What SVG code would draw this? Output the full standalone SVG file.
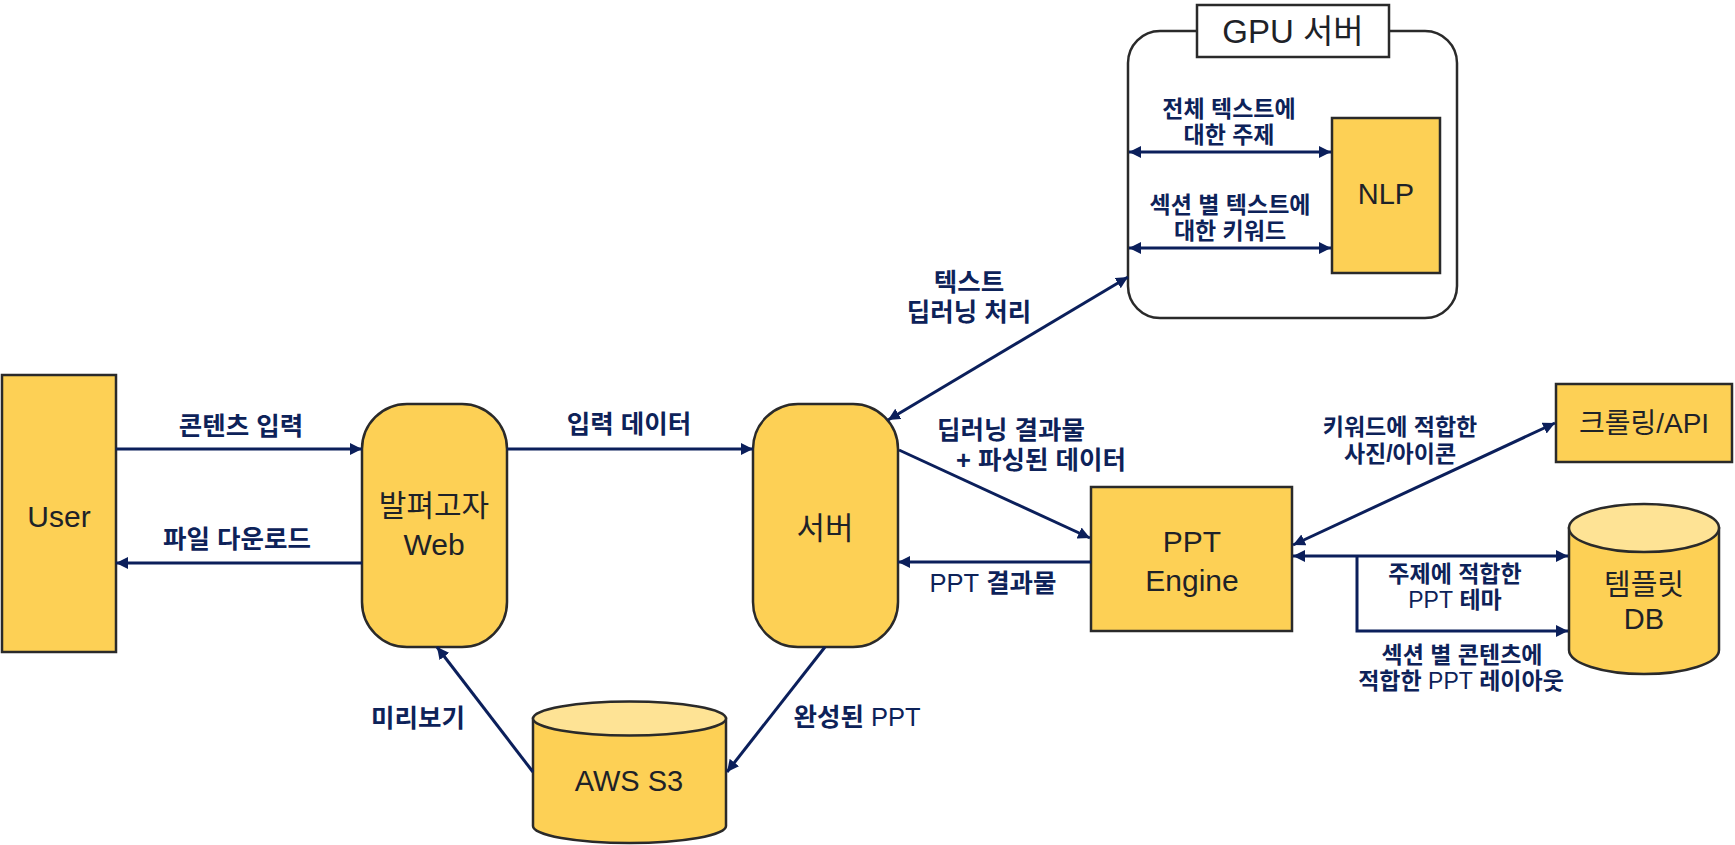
<svg xmlns="http://www.w3.org/2000/svg" width="1735" height="845" viewBox="0 0 1735 845">
<defs>
<style>
.node{fill:#FDD055;stroke:#2a2a2a;stroke-width:2.5}
.top{fill:#FEE395;stroke:#2a2a2a;stroke-width:2.5}
.frame{fill:#ffffff;stroke:#2a2a2a;stroke-width:2.5}
.nt{font-family:"Liberation Sans","Noto Sans CJK KR",sans-serif;font-size:30px;fill:#1e2228;text-anchor:middle}
.lb{font-family:"Liberation Sans","Noto Sans CJK KR",sans-serif;font-size:23px;font-weight:bold;fill:#0d2259;text-anchor:middle}
.big{font-size:25.5px}
.lt{font-weight:normal}
.cn{fill:none;stroke:#0b1f5b;stroke-width:3}
</style>
<marker id="ah" viewBox="0 0 12 12" refX="12" refY="6" markerWidth="12" markerHeight="12" markerUnits="userSpaceOnUse" orient="auto-start-reverse">
<path d="M0,0 L12,6 L0,12 Z" fill="#0b1f5b"/>
</marker>
</defs>
<rect width="1735" height="845" fill="#ffffff"/>

<g id="gpu-server">
<rect class="frame" x="1128" y="31" width="329" height="287" rx="32" ry="32"/>
<rect class="frame" x="1197" y="5" width="192" height="52"/>
<text class="nt" x="1293" y="43" style="font-size:33px">GPU 서버</text>
</g>

<g id="user">
<rect class="node" x="2" y="375" width="114" height="277"/>
<text class="nt" x="59" y="527">User</text>
</g>

<g id="web">
<rect class="node" x="362" y="404" width="145" height="243" rx="45" ry="45"/>
<text class="nt" x="434" y="516">발펴고자</text>
<text class="nt" x="434" y="555">Web</text>
</g>

<g id="server">
<rect class="node" x="753" y="404" width="145" height="243" rx="45" ry="45"/>
<text class="nt" x="825" y="539" style="font-size:31px">서버</text>
</g>

<g id="s3">
<path class="node" d="M533,718.5 L533,826 A96.5,17 0 0 0 726,826 L726,718.5 Z"/>
<ellipse class="top" cx="629.5" cy="718.5" rx="96.5" ry="17"/>
<text class="nt" x="629" y="791" style="font-size:29px">AWS S3</text>
</g>

<g id="nlp">
<rect class="node" x="1332" y="118" width="108" height="155"/>
<text class="nt" x="1386" y="204" style="font-size:29px">NLP</text>
</g>

<g id="ppt-engine">
<rect class="node" x="1091" y="487" width="201" height="144"/>
<text class="nt" x="1192" y="552">PPT</text>
<text class="nt" x="1192" y="591">Engine</text>
</g>

<g id="crawling">
<rect class="node" x="1556" y="384" width="176" height="78"/>
<text class="nt" x="1644" y="433" style="font-size:28px">크롤링/API</text>
</g>

<g id="template-db">
<path class="node" d="M1569,528 L1569,650 A75,24 0 0 0 1719,650 L1719,528 Z"/>
<ellipse class="top" cx="1644" cy="528" rx="75" ry="24"/>
<text class="nt" x="1644" y="595" style="font-size:29px">템플릿</text>
<text class="nt" x="1644" y="629" style="font-size:29px">DB</text>
</g>

<g id="connectors">
<line class="cn" x1="116" y1="449" x2="362" y2="449" marker-end="url(#ah)"/>
<line class="cn" x1="362" y1="563" x2="116" y2="563" marker-end="url(#ah)"/>
<line class="cn" x1="507" y1="449" x2="753" y2="449" marker-end="url(#ah)"/>
<line class="cn" x1="888" y1="420" x2="1128" y2="277" marker-start="url(#ah)" marker-end="url(#ah)"/>
<line class="cn" x1="899" y1="450" x2="1090" y2="538" marker-end="url(#ah)"/>
<line class="cn" x1="1091" y1="562" x2="898" y2="562" marker-end="url(#ah)"/>
<line class="cn" x1="825" y1="647" x2="727" y2="772" marker-end="url(#ah)"/>
<line class="cn" x1="533" y1="772" x2="437" y2="647" marker-end="url(#ah)"/>
<line class="cn" x1="1129" y1="152" x2="1331" y2="152" marker-start="url(#ah)" marker-end="url(#ah)"/>
<line class="cn" x1="1129" y1="248" x2="1331" y2="248" marker-start="url(#ah)" marker-end="url(#ah)"/>
<line class="cn" x1="1293" y1="545" x2="1555" y2="423" marker-start="url(#ah)" marker-end="url(#ah)"/>
<line class="cn" x1="1293" y1="556" x2="1568" y2="556" marker-start="url(#ah)" marker-end="url(#ah)"/>
<polyline class="cn" points="1357,556 1357,631 1568,631" marker-end="url(#ah)"/>
</g>

<g id="labels">
<text class="lb big" x="241" y="435">콘텐츠 입력</text>
<text class="lb big" x="237" y="548">파일 다운로드</text>
<text class="lb big" x="629" y="433">입력 데이터</text>
<text class="lb big" x="418" y="727">미리보기</text>
<text class="lb big" x="857" y="726">완성된 <tspan class="lt">PPT</tspan></text>
<text class="lb big" x="969" y="291">텍스트</text>
<text class="lb big" x="969" y="321">딥러닝 처리</text>
<text class="lb big" x="1011" y="439">딥러닝 결과물</text>
<text class="lb big" x="1041" y="469">+ 파싱된 데이터</text>
<text class="lb big" x="993" y="592"><tspan class="lt">PPT</tspan> 결과물</text>
<text class="lb" x="1229" y="117">전체 텍스트에</text>
<text class="lb" x="1229" y="143">대한 주제</text>
<text class="lb" x="1230" y="213">섹션 별 텍스트에</text>
<text class="lb" x="1230" y="239">대한 키워드</text>
<text class="lb" x="1400" y="435">키워드에 적합한</text>
<text class="lb" x="1400" y="462">사진/아이콘</text>
<text class="lb" x="1455" y="582">주제에 적합한</text>
<text class="lb" x="1455" y="608"><tspan class="lt">PPT</tspan> 테마</text>
<text class="lb" x="1462" y="663">섹션 별 콘텐츠에</text>
<text class="lb" x="1461" y="689">적합한 <tspan class="lt">PPT</tspan> 레이아웃</text>
</g>
</svg>
